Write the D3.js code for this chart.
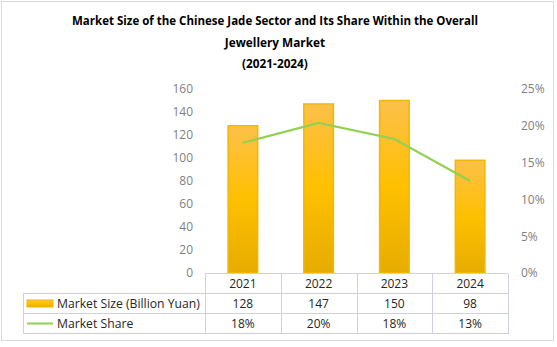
<!DOCTYPE html>
<html><head><meta charset="utf-8">
<script src="https://cdn.jsdelivr.net/npm/d3@7"></script>
<style>body{margin:0;background:#fff}svg{display:block}</style>
</head><body>
<svg id="c" width="557" height="347"></svg>
<script>
const categories = ["2021","2022","2023","2024"];
const marketSize = [128,147,150,98];
const marketShare = [17.7,20.4,18.2,12.5];
const shareLabels = ["18%","20%","18%","13%"];
const leftTicks = [0,20,40,60,80,100,120,140,160];
const rightTicks = [0,5,10,15,20,25];
const seriesNames = ["Market Size (Billion Yuan)","Market Share"];
const titleLines = ["Market Size of the Chinese Jade Sector and Its Share Within the Overall","Jewellery Market","(2021-2024)"];

const svg = d3.select("#c");
const font = "'Segoe UI','Open Sans','Noto Sans',sans-serif";
const L=205,R=508,T=89,B=273;

svg.append("rect").attr("x",1.5).attr("y",1.5).attr("width",552).attr("height",339)
  .attr("fill","#fff").attr("stroke","#d9d9d9");

const defs = svg.append("defs");
const g = defs.append("linearGradient").attr("id","bg").attr("x1",0).attr("y1",0).attr("x2",0).attr("y2",1);
g.append("stop").attr("offset","0%").attr("stop-color","#fcc04a");
g.append("stop").attr("offset","50%").attr("stop-color","#ffc000");
g.append("stop").attr("offset","100%").attr("stop-color","#e6ac00");

// title
const ty=[25,47,68];
titleLines.forEach((t,i)=>{
  const el = svg.append("text").attr("x",275).attr("y",ty[i]).attr("text-anchor","middle")
    .attr("font-family",font).attr("font-weight","bold").attr("font-size",11.8).attr("fill","#000").text(t);
  if(i===0){ el.attr("textLength",406).attr("lengthAdjust","spacingAndGlyphs"); }
});

const x = d3.scaleBand().domain(categories).range([L,R]).paddingInner(0.59).paddingOuter(0.295);
const xc = d3.scaleBand().domain(categories).range([L,R]);
const y = d3.scaleLinear().domain([0,160]).range([B,T]);
const y2 = d3.scaleLinear().domain([0,25]).range([B,T]);

const la = svg.append("g").attr("transform",`translate(${L-12},0)`)
  .call(d3.axisLeft(y).tickValues(leftTicks).tickSize(0).tickPadding(0));
la.select(".domain").remove();
la.selectAll("text").attr("font-family",font).attr("font-size",12).attr("fill","#7f7f7f");

const ra = svg.append("g").attr("transform",`translate(521,0)`)
  .call(d3.axisRight(y2).tickValues(rightTicks).tickSize(0).tickPadding(0).tickFormat(d=>d+"%"));
ra.select(".domain").remove();
ra.selectAll("text").attr("font-family",font).attr("font-size",12).attr("fill","#7f7f7f");

svg.append("g").selectAll("rect").data(categories).join("rect")
  .attr("x",d=>x(d)+0.75).attr("width",x.bandwidth()-1.5)
  .attr("y",(d,i)=>y(marketSize[i])).attr("height",(d,i)=>B-y(marketSize[i]))
  .attr("fill","url(#bg)").attr("stroke","#f2b800").attr("stroke-width",1.5);

const line = d3.line().x((d,i)=>xc(categories[i])+xc.bandwidth()/2).y(d=>y2(d));
svg.append("path").datum(marketShare).attr("d",line).attr("fill","none")
  .attr("stroke","#92d050").attr("stroke-width",2.2);

const grid="#cfd0e6";
const tg = svg.append("g").attr("stroke",grid).attr("stroke-width",1).attr("shape-rendering","crispEdges");
tg.append("line").attr("x1",L).attr("x2",R).attr("y1",273.5).attr("y2",273.5);
[293.5,313.5,333.5].forEach(yy=>tg.append("line").attr("x1",23).attr("x2",R).attr("y1",yy).attr("y2",yy));
tg.append("line").attr("x1",23.5).attr("x2",23.5).attr("y1",293.5).attr("y2",333.5);
const cols=[L,...categories.map(c=>xc(c)+xc.bandwidth())];
cols.forEach(cx=>tg.append("line").attr("x1",Math.round(cx)+0.5).attr("x2",Math.round(cx)+0.5).attr("y1",273.5).attr("y2",333.5));

const tt = svg.append("g").attr("font-family",font).attr("font-size",12).attr("fill","#262626").attr("text-anchor","middle");
categories.forEach((c,i)=>{
  const cx = xc(c)+xc.bandwidth()/2;
  tt.append("text").attr("x",cx).attr("y",288).text(c);
  tt.append("text").attr("x",cx).attr("y",308).text(marketSize[i]);
  tt.append("text").attr("x",cx).attr("y",328).text(shareLabels[i]);
});
svg.append("rect").attr("x",27).attr("y",300).attr("width",26).attr("height",7).attr("fill","url(#bg)").attr("stroke","#f2b800").attr("stroke-width",1);
svg.append("line").attr("x1",27).attr("x2",53).attr("y1",323.5).attr("y2",323.5).attr("stroke","#92d050").attr("stroke-width",2);
svg.append("text").attr("x",57).attr("y",308).attr("font-family",font).attr("font-size",12.2).attr("fill","#262626").text(seriesNames[0]);
svg.append("text").attr("x",57).attr("y",328).attr("font-family",font).attr("font-size",12.2).attr("fill","#262626").text(seriesNames[1]);
</script>
</body></html>
